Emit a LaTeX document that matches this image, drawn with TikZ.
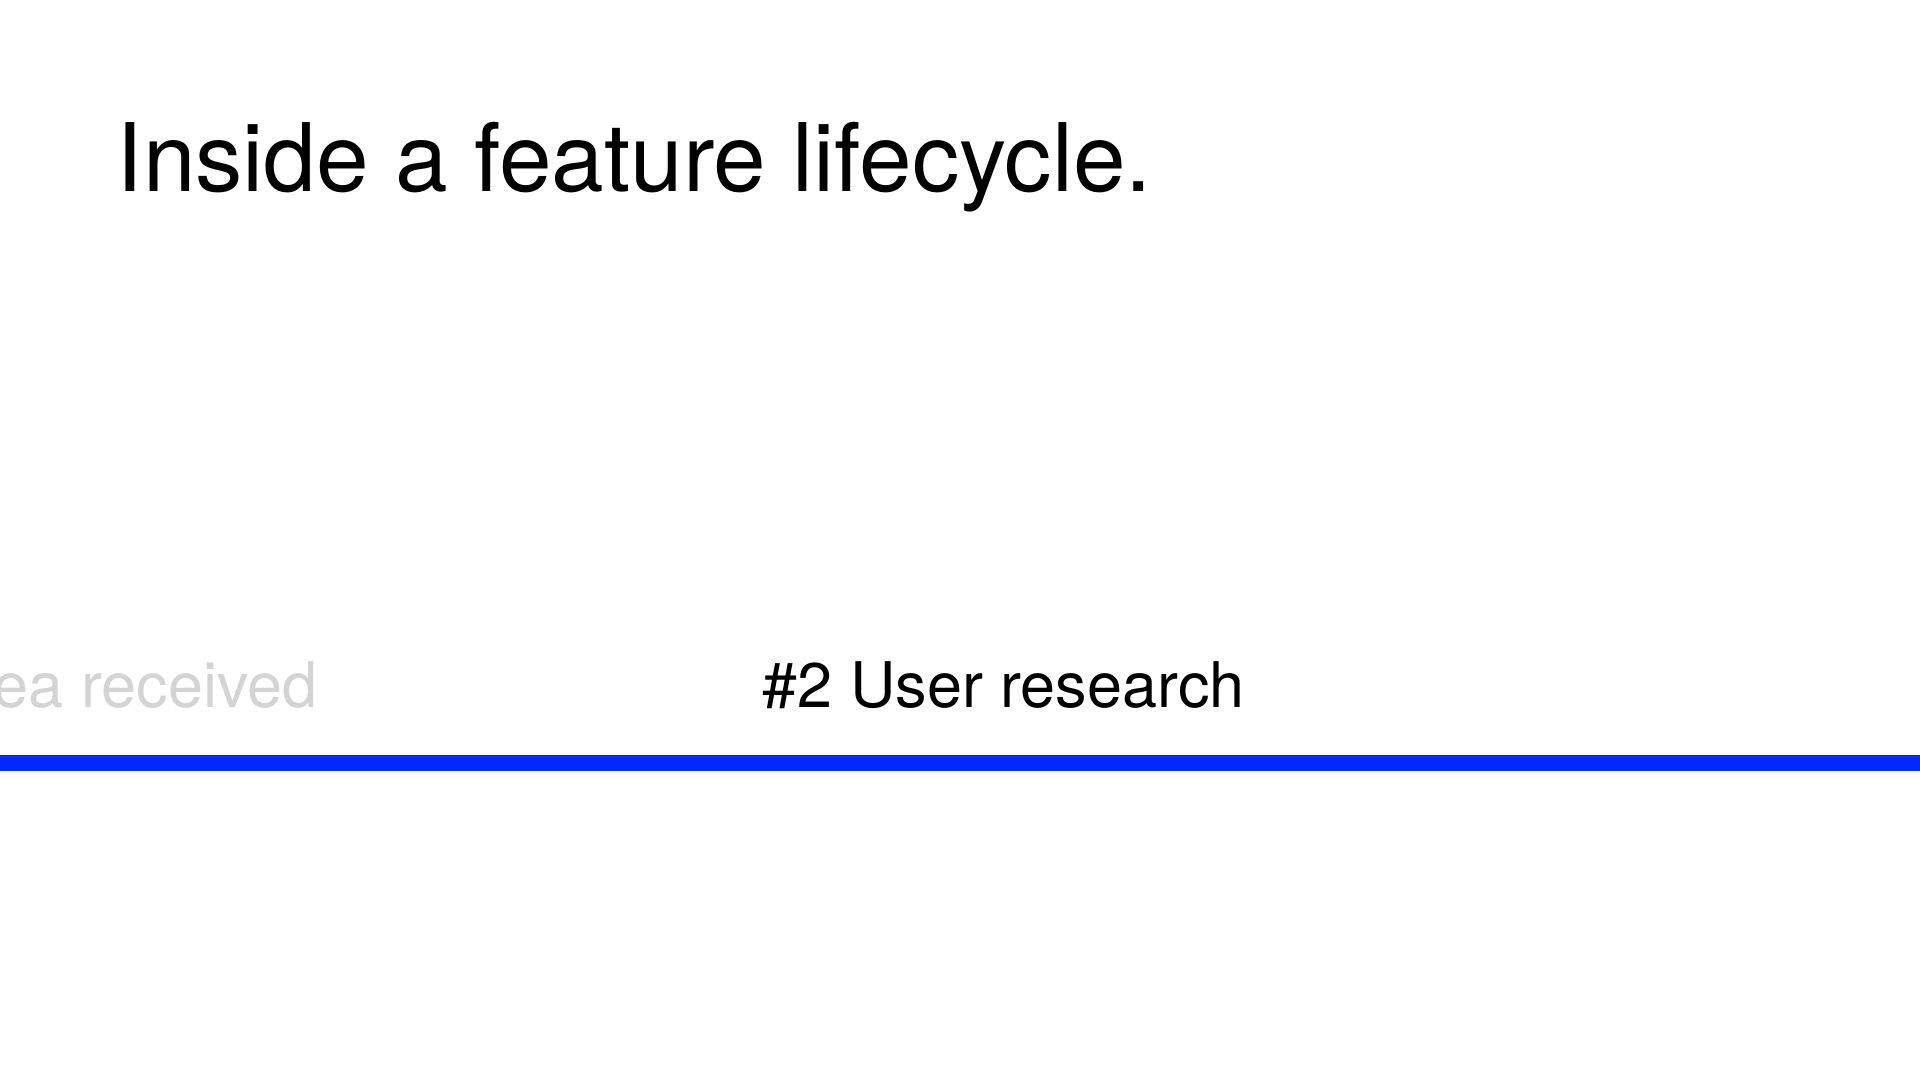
\documentclass[tikz,border=0pt]{standalone}
\usepackage{fontspec}
\setmainfont{TeX Gyre Heros}
\definecolor{lineblue}{RGB}{0,40,255}
\definecolor{fadegrey}{RGB}{212,212,212}
\tikzset{
  label/.style={anchor=base west, inner sep=0pt, font=\fontsize{17.9}{20}\selectfont},
}
\begin{document}
\begin{tikzpicture}[x=0.01cm,y=-0.01cm]
\useasboundingbox (0,0) rectangle (1920,1080);
\clip (0,0) rectangle (1920,1080);
\fill[white] (0,0) rectangle (1920,1080);

\node[anchor=base west, inner sep=0pt, font=\fontsize{26.9}{30}\selectfont](title) at (116,192) {Inside a feature lifecycle.};

\node[label, anchor=base east, text=fadegrey](step1) at (318,708) {Idea received};
\node[label](step2) at (762,708) {\#2 User research};

\coordinate (lstart) at (0,763);
\coordinate (lend) at (1920,763);
\draw[lineblue, line width=0.16cm] (lstart) -- (lend);
\end{tikzpicture}
\end{document}
